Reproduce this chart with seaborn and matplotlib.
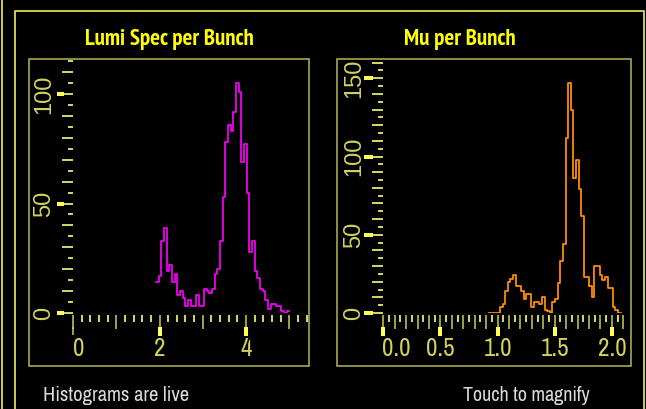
import numpy as np
import pandas as pd
import matplotlib.pyplot as plt
import seaborn as sns
from matplotlib import font_manager
from matplotlib.lines import Line2D
from matplotlib.patches import Rectangle
from matplotlib.ticker import MultipleLocator, FuncFormatter

lumi_counts = [14, 17, 33, 39, 19, 22, 14, 18, 8, 10, 7, 3, 6, 3, 3, 8, 3, 3, 11, 10,
               9, 11, 18, 20, 33, 53, 78, 86, 83, 92, 105, 101, 69, 77, 55, 28, 33, 19, 16, 11,
               10, 6, 2, 4, 4, 3, 3, 1, 0, 1]
lumi_range = (1.92, 5.0)
lumi_big_y = [0, 50, 100]
lumi_big_x = [2, 4]

mu_counts = [0, 0, 0, 0, 4, 6, 14, 20, 22, 24, 17, 17, 14, 9, 12, 12, 4, 7, 7, 6,
             10, 2, 1, 0, 7, 9, 19, 33, 44, 112, 147, 130, 86, 98, 79, 62, 23, 23, 17, 10,
             30, 30, 24, 21, 23, 16, 16, 4, 2, 0]
mu_range = (0.928, 2.077)
mu_big_y = [0, 50, 100, 150]
mu_big_x = [0.0, 0.5, 1.0, 1.5, 2.0]

titles = ["Lumi Spec per Bunch", "Mu per Bunch"]
footer = ["Histograms are live", "Touch to magnify"]

# ---- colours ----
frame_col = "#c8c84b"
box_col = "#b9b95a"
tick_col = "#d2d25f"
big_col = "#ffff55"
title_col = "#ffff00"
foot_col = "#dcdcdc"

# narrow fonts, whatever is around
fonts = font_manager.fontManager.ttflist
installed = {f.name for f in fonts}
with_bold = {f.name for f in fonts if isinstance(f.weight, int) and f.weight >= 700}
cands = ["Liberation Sans Narrow", "Arial Narrow", "Archivo Narrow", "PT Sans Narrow",
         "Roboto Condensed", "Fira Sans Condensed", "IBM Plex Sans Condensed",
         "DejaVu Sans Condensed"]
narrow = next((n for n in cands if n in installed), "Liberation Sans")
narrow_bold = next((n for n in cands if n in with_bold), narrow)

W, H = 646, 409
PT = 0.72  # px -> pt at dpi 100


def fx(px):
    return px / W


def fy(py):
    return 1 - py / H


fig = plt.figure(figsize=(6.46, 4.09), dpi=100, facecolor="black")

# outer panel frames
fig.add_artist(Line2D([fx(1.5), fx(1.5)], [0, 1], color=frame_col, lw=2 * PT))
fig.add_artist(Line2D([fx(14.5), fx(14.5), fx(644), fx(644)], [0, fy(10.5), fy(10.5), 0],
                      color=frame_col, lw=2 * PT))
# plot boxes
for x0, x1 in [(29, 309), (337, 631)]:
    fig.add_artist(Rectangle((fx(x0), fy(366)), (x1 - x0) / W, (366 - 59) / H,
                             fill=False, ec=box_col, lw=1.5 * PT))


def make_hist(left_px, right_px, xscale, yscale, counts, rng, color,
              xmaj, xmin, xfmt, zero_label, zero_shift, big_x, big_y, thick_y_px):
    ax = fig.add_axes([fx(left_px), fy(313), (right_px - left_px) / W, 253 / H])
    edges = np.linspace(rng[0], rng[1], len(counts) + 1)
    df = pd.DataFrame({"value": (edges[:-1] + edges[1:]) / 2, "count": counts})
    sns.histplot(data=df, x="value", weights="count", bins=len(counts), binrange=rng,
                 element="step", fill=False, color=color, linewidth=1.8 * PT, ax=ax)
    ax.set_xlim(0, (right_px - left_px) / xscale)
    ax.set_ylim(0, 253 / yscale)
    ax.set_xlabel("")
    ax.set_ylabel("")
    ax.patch.set_visible(False)
    for s in ax.spines.values():
        s.set_visible(False)
    ax.spines["bottom"].set_position(("outward", 2 * PT))

    ax.xaxis.set_major_locator(MultipleLocator(xmaj))
    ax.xaxis.set_minor_locator(MultipleLocator(xmin))
    ax.yaxis.set_major_locator(MultipleLocator(10))
    ax.yaxis.set_minor_locator(MultipleLocator(5))
    ax.xaxis.set_major_formatter(FuncFormatter(xfmt))
    ax.yaxis.set_major_formatter(FuncFormatter(
        lambda v, p: f"{v:.0f}" if abs(v / 50 - round(v / 50)) < 1e-6 else ""))

    ax.tick_params(axis="x", which="major", direction="out", length=14 * PT, width=1.5 * PT,
                   color=tick_col, labelcolor=tick_col, labelsize=18, pad=6,
                   labelfontfamily=narrow)
    ax.tick_params(axis="x", which="minor", direction="out", length=7 * PT, width=2 * PT,
                   color=tick_col)
    ax.tick_params(axis="y", which="major", direction="out", length=11 * PT, width=2 * PT,
                   color=tick_col, labelcolor=tick_col, labelsize=17, pad=5,
                   labelrotation=90, labelfontfamily="Liberation Sans")
    ax.tick_params(axis="y", which="minor", direction="out", length=5 * PT, width=2 * PT,
                   color=tick_col)
    plt.setp(ax.get_yticklabels(), va="center")

    # the 0 label sits a little right of its tick, as on the display
    ax.annotate(zero_label, xy=(0, 0), xycoords=ax.get_xaxis_transform(),
                xytext=(zero_shift * PT, -24 * PT),
                textcoords="offset points", ha="center", va="top", color=tick_col,
                fontsize=18, family=narrow, annotation_clip=False)

    w_px = right_px - left_px
    ax.vlines(big_x, (313 - 327) / 253, (313 - 336) / 253, transform=ax.get_xaxis_transform(),
              colors=big_col, lw=4 * PT, clip_on=False)
    ax.hlines(big_y, (thick_y_px[0] - left_px) / w_px, (thick_y_px[1] - left_px) / w_px,
              transform=ax.get_yaxis_transform(), colors=big_col, lw=4 * PT, clip_on=False)
    return ax


ax1 = make_hist(73, 309, 43.25, 2.19, lumi_counts, lumi_range, "#f000f0",
                1, 0.2, lambda v, p: f"{v:.0f}" if round(v) % 2 == 0 and v > 0.5 else "",
                "0", 6, lumi_big_x, lumi_big_y, (57, 64))
# plain long tick at 0 on the lumi axis
ax1.vlines([0], (313 - 327) / 253, (313 - 335) / 253, transform=ax1.get_xaxis_transform(),
           colors=tick_col, lw=1.5 * PT, clip_on=False)
make_hist(383.3, 629, 114.3, 1.565, mu_counts, mu_range, "#ff8c00",
          0.1, 0.05,
          lambda v, p: f"{v:.1f}" if abs(v * 2 - round(v * 2)) < 1e-6 and v > 0.25 else "",
          "0.0", 13, mu_big_x, mu_big_y, (364, 373))

fig.text(fx(169), fy(45), titles[0], color=title_col, fontsize=16.5, fontweight="bold",
         family=narrow_bold, ha="center", va="baseline")
fig.text(fx(460), fy(45), titles[1], color=title_col, fontsize=16.5, fontweight="bold",
         family=narrow_bold, ha="center", va="baseline")
fig.text(fx(43), fy(401), footer[0], color=foot_col, fontsize=14.8, family=narrow,
         ha="left", va="baseline")
fig.text(fx(463), fy(401), footer[1], color=foot_col, fontsize=14.4, family=narrow,
         ha="left", va="baseline")

fig.savefig("out.png", dpi=100, facecolor="black")
